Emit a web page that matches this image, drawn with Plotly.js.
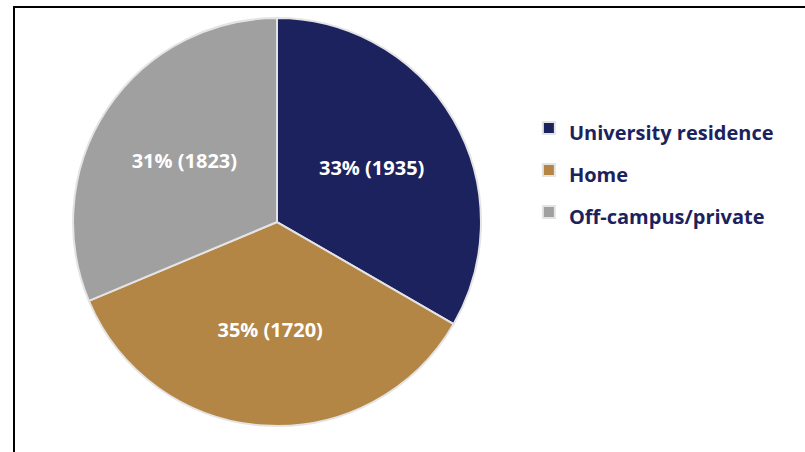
<!DOCTYPE html>
<html><head><meta charset="utf-8">
<script src="https://cdn.plot.ly/plotly-3.0.1.min.js"></script>
<style>html,body{margin:0;padding:0;background:#fff}#chart{width:805px;height:452px}</style>
</head><body><div id="chart"></div>
<script>
const categories = ["University residence", "Home", "Off-campus/private"];
const percents = [33, 35, 31];
const counts = [1935, 1720, 1823];
const colors = ["#1c225e", "#b48645", "#a0a0a0"];

const legendLabels = categories.map(c => '<span style="font-size:20px">' + c + '</span>');

const trace = {
  type: 'pie',
  labels: legendLabels,
  values: percents,
  customdata: counts,
  texttemplate: '%{value}% (%{customdata})',
  textposition: 'inside',
  insidetextorientation: 'horizontal',
  textfont: {family: '"Open Sans", sans-serif', size: 20, color: '#ffffff', weight: 'bold'},
  marker: {colors: colors, line: {color: '#e4e4e4', width: 2}},
  sort: false,
  direction: 'clockwise',
  rotation: 0,
  domain: {x: [0.0907, 0.5975], y: [0.0575, 0.96]},
  hoverinfo: 'skip'
};

const layout = {
  width: 805, height: 452,
  margin: {l: 0, r: 0, t: 0, b: 0},
  paper_bgcolor: '#ffffff',
  showlegend: true,
  legend: {
    x: 0.657, xanchor: 'left', y: 0.624, yanchor: 'middle',
    font: {family: '"Open Sans", sans-serif', size: 30, color: '#1c225e', weight: 'bold'},
    bgcolor: 'rgba(0,0,0,0)'
  },
  shapes: [{
    type: 'rect', xref: 'paper', yref: 'paper',
    x0: 14/805, x1: 1.05, y0: -0.05, y1: 1 - 7/452,
    line: {color: '#000000', width: 2}, fillcolor: 'rgba(0,0,0,0)', layer: 'below'
  }]
};

Plotly.newPlot('chart', [trace], layout, {displayModeBar: false, staticPlot: true});
</script>
</body></html>
